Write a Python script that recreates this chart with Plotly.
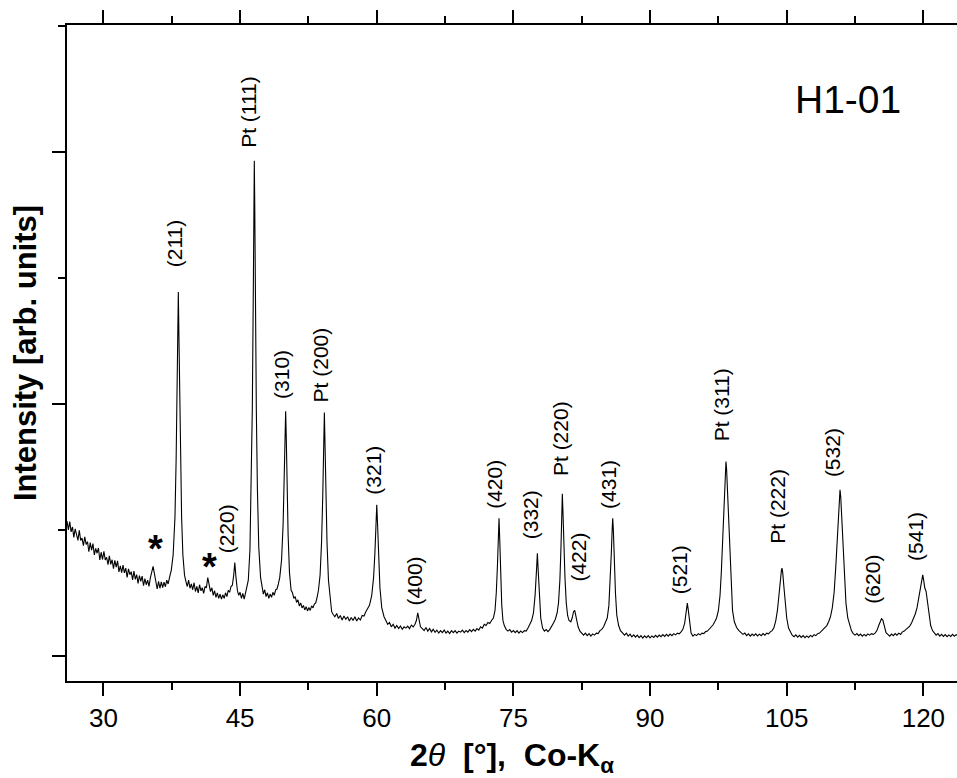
import plotly.graph_objects as go

# ---------------- data ----------------
two_theta = [
    26.0, 26.15, 26.3, 26.45, 26.6, 26.75, 26.9, 27.05, 27.2, 27.35,
    27.5, 27.65, 27.8, 27.95, 28.1, 28.25, 28.4, 28.55, 28.7, 28.85,
    29.0, 29.15, 29.3, 29.45, 29.6, 29.75, 29.9, 30.05, 30.2, 30.35,
    30.5, 30.65, 30.8, 30.95, 31.1, 31.25, 31.4, 31.55, 31.7, 31.85,
    32.0, 32.15, 32.3, 32.45, 32.6, 32.75, 32.9, 33.05, 33.2, 33.35,
    33.5, 33.65, 33.8, 33.95, 34.1, 34.25, 34.4, 34.55, 34.7, 34.85,
    35.0, 35.15, 35.3, 35.45, 35.6, 35.75, 35.9, 36.05, 36.2, 36.35,
    36.5, 36.65, 36.8, 36.95, 37.1, 37.25,
    37.45, 37.65, 37.85, 37.98, 38.1, 38.17, 38.22, 38.28, 38.36, 38.46, 38.58, 38.72, 38.9,
    39.05, 39.2, 39.35, 39.5, 39.65, 39.8, 39.95, 40.1, 40.25, 40.4,
    40.55, 40.7, 40.85, 41.0, 41.15, 41.3, 41.45, 41.6, 41.75, 41.9,
    42.05, 42.2, 42.35, 42.5, 42.65, 42.8, 42.95, 43.1, 43.25, 43.4,
    43.55, 43.7, 43.85, 44.0, 44.15, 44.3, 44.42, 44.55, 44.7, 44.85,
    45.0, 45.15, 45.3, 45.45, 45.6, 45.75,
    45.9, 46.08, 46.22, 46.34, 46.45, 46.52, 46.56, 46.61, 46.68, 46.78, 46.9, 47.05, 47.25,
    47.4, 47.55, 47.7, 47.85, 48.0, 48.15, 48.3, 48.45, 48.6, 48.75, 48.9, 49.05, 49.2,
    49.35, 49.55, 49.72, 49.86, 49.95, 50.0, 50.06, 50.15, 50.27, 50.42, 50.6,
    50.75, 50.9, 51.05, 51.2, 51.35, 51.5, 51.65, 51.8, 51.95, 52.1,
    52.25, 52.4, 52.55, 52.7, 52.85, 53.0, 53.15, 53.3, 53.45,
    53.6, 53.78, 53.94, 54.07, 54.17, 54.25, 54.32, 54.42, 54.54, 54.7, 54.88, 55.05,
    55.2, 55.4, 55.6, 55.8, 56.0, 56.2, 56.4, 56.6, 56.8, 57.0,
    57.2, 57.4, 57.6, 57.8, 58.0, 58.2, 58.4, 58.6, 58.8, 59.0,
    59.2, 59.45, 59.65, 59.8, 59.92, 60.0, 60.08, 60.2, 60.35, 60.55, 60.8,
    61.0, 61.2, 61.4, 61.6, 61.8, 62.0, 62.2, 62.4, 62.6, 62.8,
    63.0, 63.2, 63.4, 63.6, 63.8, 64.0, 64.2, 64.35, 64.5, 64.62,
    64.8, 65.0, 65.2, 65.4, 65.6, 65.8, 66.0, 66.2, 66.4, 66.6,
    66.8, 67.0, 67.2, 67.4, 67.6, 67.8, 68.0, 68.2, 68.4, 68.6,
    68.8, 69.0, 69.2, 69.4, 69.6, 69.8, 70.0, 70.2, 70.4, 70.6,
    70.8, 71.0, 71.2, 71.4, 71.6, 71.8, 72.0, 72.2, 72.4, 72.6,
    72.8, 72.98, 73.12, 73.25, 73.35, 73.42, 73.5, 73.6, 73.72, 73.85, 74.0,
    74.2, 74.4, 74.6, 74.8, 75.0, 75.2, 75.4, 75.6, 75.8, 76.0, 76.2, 76.4, 76.6, 76.8,
    77.0, 77.2, 77.38, 77.52, 77.63, 77.72, 77.85, 78.0, 78.2,
    78.4, 78.6, 78.8, 79.0, 79.2, 79.4, 79.6, 79.8,
    79.95, 80.1, 80.22, 80.31, 80.37, 80.44, 80.54, 80.66, 80.8, 80.95,
    81.1, 81.3, 81.45, 81.6, 81.73, 81.82, 81.95, 82.1, 82.3,
    82.5, 82.7, 82.9, 83.1, 83.3, 83.5, 83.7, 83.9, 84.1, 84.3, 84.5, 84.7, 84.9, 85.1,
    85.3, 85.48, 85.62, 85.75, 85.85, 85.9, 85.97, 86.07, 86.2, 86.35, 86.55, 86.75,
    87.0, 87.2, 87.4, 87.6, 87.8, 88.0, 88.2, 88.4, 88.6, 88.8,
    89.0, 89.2, 89.4, 89.6, 89.8, 90.0, 90.2, 90.4, 90.6, 90.8,
    91.0, 91.2, 91.4, 91.6, 91.8, 92.0, 92.2, 92.4, 92.6, 92.8,
    93.0, 93.2, 93.4, 93.6,
    93.8, 93.95, 94.09, 94.2, 94.35, 94.5,
    94.7, 94.9, 95.1, 95.3, 95.5, 95.7, 95.9, 96.1, 96.3, 96.5, 96.7, 96.9, 97.1, 97.3,
    97.5, 97.68, 97.82, 97.95, 98.07, 98.18, 98.27, 98.33, 98.4, 98.5,
    98.62, 98.75, 98.9, 99.05, 99.25, 99.5, 99.75,
    100.0, 100.2, 100.4, 100.6, 100.8, 101.0, 101.2, 101.4, 101.6, 101.8,
    102.0, 102.2, 102.4, 102.6, 102.8, 103.0, 103.2, 103.4, 103.6,
    103.8, 103.98, 104.15, 104.3, 104.42, 104.48, 104.56, 104.7, 104.85, 105.0, 105.2, 105.4,
    105.6, 105.8, 106.0, 106.2, 106.4, 106.6, 106.8, 107.0, 107.2, 107.4,
    107.6, 107.8, 108.0, 108.2, 108.4, 108.6, 108.8, 109.0, 109.2, 109.4,
    109.6, 109.8, 110.0, 110.2, 110.38, 110.53, 110.66, 110.76, 110.85, 110.93,
    111.02, 111.12, 111.22, 111.35, 111.5, 111.7, 111.9, 112.1,
    112.3, 112.5, 112.7, 112.9, 113.1, 113.3, 113.5, 113.7, 113.9, 114.1, 114.3, 114.5, 114.7, 114.9,
    115.1, 115.25, 115.4, 115.55, 115.7, 115.9,
    116.1, 116.3, 116.5, 116.7, 116.9, 117.1, 117.3, 117.5, 117.7, 117.9, 118.1, 118.3, 118.5, 118.7, 118.9,
    119.1, 119.3, 119.5, 119.68, 119.82, 119.93, 120.03, 120.15, 120.3, 120.45, 120.6, 120.8, 121.0,
    121.2, 121.4, 121.6, 121.8, 122.0, 122.2, 122.4, 122.6, 122.8, 123.0, 123.2, 123.4, 123.6, 123.8, 124.0,
]

intensity = [
    0.535, 0.50, 0.533, 0.492, 0.511, 0.47, 0.504, 0.483, 0.458, 0.498,
    0.458, 0.467, 0.437, 0.472, 0.442, 0.453, 0.413, 0.449, 0.419, 0.445,
    0.40, 0.426, 0.407, 0.428, 0.38, 0.411, 0.382, 0.414, 0.38, 0.391,
    0.362, 0.397, 0.363, 0.381, 0.346, 0.379, 0.352, 0.377, 0.333, 0.357,
    0.33, 0.36, 0.329, 0.348, 0.311, 0.345, 0.322, 0.334, 0.301, 0.336,
    0.303, 0.322, 0.287, 0.318, 0.295, 0.316, 0.278, 0.306, 0.282, 0.30,
    0.275, 0.309, 0.33, 0.355, 0.325, 0.30, 0.265, 0.295, 0.268, 0.293,
    0.271, 0.292, 0.274, 0.30, 0.285, 0.31,
    0.34, 0.40, 0.55, 0.78, 1.1, 1.3, 1.444, 1.28, 1.02, 0.76, 0.55, 0.40, 0.32,
    0.295, 0.275, 0.30, 0.268, 0.285, 0.262, 0.29, 0.255, 0.275, 0.25,
    0.282, 0.258, 0.27, 0.248, 0.275, 0.27, 0.31, 0.275, 0.255, 0.27,
    0.24, 0.258, 0.232, 0.25, 0.228, 0.245, 0.225, 0.242, 0.228, 0.25,
    0.235, 0.26, 0.252, 0.275, 0.28, 0.32, 0.37, 0.31, 0.26, 0.24,
    0.252, 0.228, 0.248, 0.225, 0.255, 0.27,
    0.30, 0.42, 0.65, 0.98, 1.45, 1.78, 1.964, 1.78, 1.4, 0.98, 0.66, 0.43, 0.31,
    0.27, 0.245, 0.262, 0.235, 0.25, 0.228, 0.245, 0.232, 0.252, 0.24, 0.262, 0.265, 0.285,
    0.31, 0.38, 0.52, 0.74, 0.9, 0.97, 0.88, 0.7, 0.48, 0.33, 0.26,
    0.25, 0.228, 0.235, 0.212, 0.222, 0.198, 0.21, 0.19, 0.2, 0.182,
    0.195, 0.178, 0.192, 0.18, 0.198, 0.19, 0.205, 0.21, 0.232,
    0.26, 0.32, 0.45, 0.63, 0.82, 0.965, 0.84, 0.64, 0.45, 0.30, 0.22, 0.175,
    0.165, 0.155, 0.168, 0.148, 0.16, 0.142, 0.158, 0.145, 0.155, 0.138,
    0.152, 0.14, 0.155, 0.138, 0.15, 0.142, 0.16, 0.158, 0.175, 0.19,
    0.20, 0.24, 0.31, 0.41, 0.53, 0.599, 0.53, 0.39, 0.27, 0.19, 0.155,
    0.14, 0.125, 0.132, 0.115, 0.125, 0.11, 0.12, 0.108, 0.118, 0.105,
    0.115, 0.11, 0.118, 0.108, 0.122, 0.115, 0.125, 0.14, 0.17, 0.145,
    0.115, 0.108, 0.10, 0.112, 0.098, 0.108, 0.095, 0.105, 0.093, 0.102,
    0.09, 0.10, 0.092, 0.102, 0.09, 0.098, 0.088, 0.10, 0.092, 0.10,
    0.09, 0.098, 0.094, 0.102, 0.092, 0.10, 0.094, 0.104, 0.096, 0.105,
    0.098, 0.108, 0.102, 0.115, 0.11, 0.125, 0.12, 0.132, 0.128, 0.14,
    0.15, 0.18, 0.25, 0.36, 0.48, 0.546, 0.46, 0.32, 0.20, 0.14, 0.12,
    0.105, 0.098, 0.104, 0.094, 0.10, 0.092, 0.10, 0.09, 0.098, 0.092, 0.10, 0.098, 0.11, 0.125,
    0.14, 0.17, 0.24, 0.33, 0.407, 0.34, 0.23, 0.15, 0.11,
    0.098, 0.104, 0.096, 0.105, 0.115, 0.13, 0.145, 0.17,
    0.21, 0.30, 0.43, 0.56, 0.643, 0.57, 0.44, 0.31, 0.21, 0.16,
    0.14, 0.135, 0.15, 0.175, 0.18, 0.165, 0.13, 0.115, 0.098,
    0.088, 0.082, 0.09, 0.08, 0.088, 0.078, 0.087, 0.082, 0.09, 0.088, 0.10, 0.105, 0.115, 0.13,
    0.15, 0.20, 0.29, 0.41, 0.51, 0.546, 0.50, 0.38, 0.25, 0.16, 0.12, 0.10,
    0.088, 0.082, 0.09, 0.078, 0.086, 0.075, 0.083, 0.074, 0.082, 0.072,
    0.08, 0.07, 0.079, 0.072, 0.08, 0.071, 0.079, 0.073, 0.081, 0.074,
    0.082, 0.076, 0.084, 0.077, 0.085, 0.078, 0.086, 0.08, 0.088, 0.083,
    0.09, 0.087, 0.095, 0.105,
    0.13, 0.17, 0.209, 0.18, 0.125, 0.09,
    0.078, 0.085, 0.08, 0.088, 0.083, 0.09, 0.088, 0.096, 0.098, 0.105, 0.112, 0.122, 0.135, 0.15,
    0.18, 0.24, 0.33, 0.45, 0.58, 0.70, 0.76, 0.771, 0.74, 0.65,
    0.52, 0.38, 0.26, 0.18, 0.135, 0.112, 0.10,
    0.09, 0.085, 0.09, 0.08, 0.087, 0.078, 0.086, 0.08, 0.087, 0.079,
    0.086, 0.08, 0.088, 0.082, 0.09, 0.087, 0.095, 0.10, 0.112,
    0.14, 0.18, 0.25, 0.31, 0.34, 0.348, 0.33, 0.27, 0.20, 0.15, 0.11, 0.092,
    0.082, 0.076, 0.083, 0.074, 0.081, 0.073, 0.08, 0.072, 0.079, 0.073,
    0.081, 0.076, 0.084, 0.08, 0.088, 0.09, 0.098, 0.104, 0.112, 0.12,
    0.135, 0.155, 0.19, 0.25, 0.35, 0.46, 0.57, 0.64, 0.659, 0.63,
    0.57, 0.48, 0.43, 0.31, 0.21, 0.15, 0.12, 0.10,
    0.088, 0.082, 0.088, 0.08, 0.086, 0.078, 0.085, 0.079, 0.087, 0.082, 0.088, 0.085, 0.09, 0.10,
    0.12, 0.138, 0.147, 0.142, 0.115, 0.092,
    0.085, 0.078, 0.086, 0.08, 0.088, 0.082, 0.09, 0.085, 0.095, 0.098, 0.105, 0.11, 0.118, 0.13, 0.145,
    0.165, 0.19, 0.23, 0.27, 0.305, 0.321, 0.30, 0.27, 0.255, 0.21, 0.16, 0.12, 0.10,
    0.09, 0.082, 0.088, 0.078, 0.085, 0.077, 0.084, 0.076, 0.083, 0.077, 0.085, 0.078, 0.084, 0.079, 0.083,
]

peak_labels = ["(211)", "Pt (111)", "(220)", "(310)", "Pt (200)", "(321)", "(400)",
               "(420)", "(332)", "Pt (220)", "(422)", "(431)", "(521)", "Pt (311)",
               "Pt (222)", "(532)", "(620)", "(541)"]
label_x = [37.86, 46.1, 43.71, 49.57, 53.9, 59.8, 64.2, 73.0, 77.0, 80.3, 82.3,
           85.53, 93.36, 97.9, 104.08, 110.08, 114.58, 119.27]
label_y = [1.544, 2.02, 0.41, 1.024, 1.008, 0.645, 0.202, 0.586, 0.467, 0.718, 0.30,
           0.586, 0.249, 0.853, 0.448, 0.711, 0.209, 0.381]

star_x = [35.66, 41.59]
star_y = [0.448, 0.377]

sample_name = "H1-01"
sample_pos = (111.7, 2.206)

x_range = [26.0, 123.69]
y_range = [-0.1, 2.503]

FONT = "Liberation Sans, Arial, sans-serif"

n = min(len(two_theta), len(intensity))

fig = go.Figure()
fig.add_trace(go.Scatter(
    x=two_theta[:n], y=intensity[:n], mode="lines",
    line=dict(color="black", width=1.1), showlegend=False, hoverinfo="skip",
))

annotations = []
for txt, lx, ly in zip(peak_labels, label_x, label_y):
    annotations.append(dict(
        x=lx, y=ly, xref="x", yref="y", text=txt, showarrow=False,
        textangle=-90, xanchor="center", yanchor="bottom", yshift=-3, xshift=-1,
        font=dict(family=FONT, size=21, color="black"),
    ))
for sx, sy in zip(star_x, star_y):
    annotations.append(dict(
        x=sx, y=sy, xref="x", yref="y", text="<b>*</b>", showarrow=False,
        xanchor="center", yanchor="middle", yshift=-6,
        font=dict(family=FONT, size=38, color="black"),
    ))
annotations.append(dict(
    x=sample_pos[0], y=sample_pos[1], xref="x", yref="y", text=sample_name,
    showarrow=False, xanchor="center", yanchor="middle",
    font=dict(family=FONT, size=39, color="black"),
))

fig.update_layout(
    width=957, height=778,
    margin=dict(l=67, r=0, t=25, b=97, autoexpand=False),
    paper_bgcolor="white", plot_bgcolor="white",
    font=dict(family=FONT, color="black"),
    annotations=annotations,
    xaxis=dict(
        range=x_range, tick0=0, dtick=15, automargin=False,
        ticks="outside", ticklen=13, tickwidth=1.5, tickcolor="black",
        showline=True, linewidth=1.5, linecolor="black", mirror="ticks",
        showgrid=False, zeroline=False,
        tickfont=dict(family=FONT, size=26, color="black"),
        minor=dict(dtick=7.5, tick0=0, ticks="outside", ticklen=7, tickwidth=1.5,
                   tickcolor="black", showgrid=False),
        title=dict(text="<b>2</b><i>θ</i><b>  [°],  Co-K<sub>α</sub></b>",
                   font=dict(family=FONT, size=32, color="black"), standoff=25),
    ),
    yaxis=dict(
        range=y_range, tick0=0, dtick=1, automargin=False,
        ticks="outside", ticklen=13, tickwidth=1.5, tickcolor="black",
        showticklabels=False,
        showline=True, linewidth=1.5, linecolor="black", mirror=False,
        showgrid=False, zeroline=False,
        minor=dict(dtick=0.5, tick0=0, ticks="outside", ticklen=7, tickwidth=1.5,
                   tickcolor="black", showgrid=False),
        title=dict(text="<b>Intensity [arb. units]</b>",
                   font=dict(family=FONT, size=31, color="black"), standoff=6),
    ),
)

fig.write_html(
    "out.html",
    config={"displayModeBar": False},
    post_script="document.body.style.margin='0';document.body.style.overflow='hidden';",
)
